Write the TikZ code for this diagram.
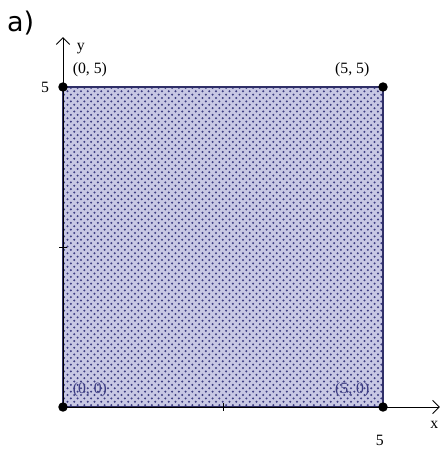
\documentclass[tikz,border=0pt]{standalone}
\usepackage{fontspec}
\setmainfont{Liberation Serif}
\newfontfamily\labelfont{DejaVu Sans}
\usetikzlibrary{patterns,arrows.meta}
\definecolor{dotblue}{RGB}{60,60,130}
\definecolor{regionfill}{RGB}{200,200,228}
\begin{document}
\begin{tikzpicture}[x=1cm,y=1cm]
		\tikzstyle{pt} =[circle, fill=black, inner sep=0pt, minimum size=4.2pt];
		\tikzstyle{lbl} =[font=\fontsize{7}{8}\selectfont, inner sep=1pt];
		\useasboundingbox (-0.984,-0.656) rectangle (5.922,6.359);
		\fill[regionfill] (0,0) rectangle (5,5);
		\fill[pattern=crosshatch dots, pattern color=dotblue] (0,0) rectangle (5,5);
		\draw[dotblue!80!black, line width=0.5pt] (0,0) rectangle (5,5);
		
		\coordinate (xend) at (5.89,0);
		\coordinate (yend) at (0,5.78);
		\node[pt] (o) at (0,0) {};
		\node[pt] (a) at (5,0) {};
		\node[pt] (b) at (5,5) {};
		\node[pt] (c) at (0,5) {};
		
		\draw[-{Straight Barb[length=3pt,width=6pt]},line width=0.4pt] (o.center) -- (xend);
		\draw[-{Straight Barb[length=3pt,width=6pt]},line width=0.4pt] (o.center) -- (yend);
		\draw[line width=0.4pt] (2.5,-0.06) -- (2.5,0.06);
		\draw[line width=0.4pt] (-0.06,2.5) -- (0.06,2.5);
		
		\node[lbl] (lo) at (0.42,0.27) {\textcolor{dotblue}{(0, 0)}};
		\node[lbl] (la) at (4.52,0.27) {\textcolor{dotblue}{(5, 0)}};
		\node[lbl] (lb) at (4.52,5.27) {(5, 5)};
		\node[lbl] (lc) at (0.42,5.27) {(0, 5)};
		\node[lbl] (ly) at (0.28,5.6) {y};
		\node[lbl] (lx) at (5.8,-0.28) {x};
		\node[lbl] (fivey) at (-0.28,5) {5};
		\node[lbl] (fivex) at (4.95,-0.52) {5};
		\node[font=\labelfont\fontsize{12}{14}\selectfont] (tag) at (-0.66,6.0) {a)};
	\end{tikzpicture}
\end{document}
